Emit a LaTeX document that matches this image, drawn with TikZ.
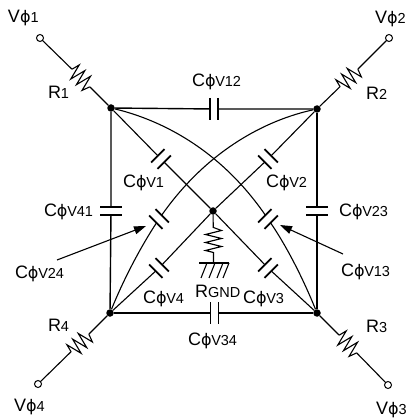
\documentclass[tikz,border=0pt]{standalone}
\usepackage{fontspec}
\setmainfont{Liberation Sans}
\newfontfamily\phifont{DejaVu Sans}
\usetikzlibrary{arrows.meta}
\newcommand\bigtxt{\fontsize{18}{18}\selectfont}
\newcommand\smalltxt{\fontsize{14.5}{15}\selectfont}
\newcommand\phisym{{\fontsize{16}{16}\selectfont\phifont ϕ}}
\newcommand\capname[1]{{\bigtxt C}\phisym{\kern-0.3pt\smalltxt V#1}}
\newcommand\vname[1]{{\bigtxt V}\phisym{\smalltxt #1}}
\newcommand\rname[1]{{\bigtxt R}{\smalltxt #1}}
\tikzset{
  wire/.style={line width=1.1pt,black},
  sidewire/.style={line width=1.4pt,black},
  plate/.style={line width=1.7pt,black},
  lab/.style={anchor=base west,inner sep=0pt,outer sep=0pt},
  term/.style={circle,draw,line width=1pt,fill=white,minimum size=7pt,inner sep=0pt},
  junction/.style={circle,fill=black,minimum size=7.5pt,inner sep=0pt},
  capgap/.style={circle,minimum size=9pt,inner sep=0pt},
  sidegap/.style={circle,minimum size=8pt,inner sep=0pt},
  resgap/.style={circle,minimum size=25pt,inner sep=0pt},
  pointer/.style={line width=1.1pt,-{Triangle[length=12pt,width=8pt]}},
  capsym/.pic={
    \draw[plate] (-4.5,-9.5) -- (-4.5,9.5);
    \draw[plate] (4.5,-9.5) -- (4.5,9.5);
  },
  sidecap/.pic={
    \draw[plate] (-4,-11) -- (-4,11);
    \draw[plate] (4,-11) -- (4,11);
  },
  resym/.pic={
    \draw[wire,line join=miter] (-12.5,0) -- (-10.5,-8) -- (-6.5,8) -- (-2.5,-8) -- (1.5,8) -- (5.5,-8) -- (9.5,8) -- (12.5,0);
  }
}
\begin{document}
\begin{tikzpicture}[x=1pt,y=-1pt]
\useasboundingbox (0,0) rectangle (407,419);
% junctions
\node[junction] (tl) at (111,108) {};
\node[junction] (tr) at (317,109) {};
\node[junction] (bl) at (110,313) {};
\node[junction] (br) at (317,313) {};
\node[junction] (ctr) at (213,211) {};
% terminals
\node[term] (t1) at (40,38) {};
\node[term] (t2) at (389,38) {};
\node[term] (t3) at (388,385) {};
\node[term] (t4) at (38,384) {};
% resistors
\node[resgap] (r1) at (81,78) {};
\node[resgap] (r2) at (349,78) {};
\node[resgap] (r3) at (348,344) {};
\node[resgap] (r4) at (80,343) {};
\node[resgap,minimum size=24pt] (rg) at (213.5,240) {};
\pic[rotate=-45] at (r1) {resym};
\pic[rotate=45] at (r2) {resym};
\pic[rotate=-45] at (r3) {resym};
\pic[rotate=45] at (r4) {resym};
\pic[rotate=90] at (rg) {resym};
% capacitors
\node[sidegap] (c12) at (214,109) {};
\node[sidegap] (c34) at (214.5,313) {};
\node[sidegap] (c41) at (111,211) {};
\node[sidegap] (c23) at (317,211) {};
\node[capgap] (c1) at (161,159) {};
\node[capgap] (c2) at (268,159) {};
\node[capgap] (c3) at (268,268) {};
\node[capgap] (c4) at (159,268) {};
\node[capgap] (c13) at (268,219) {};
\node[capgap] (c24) at (159,219) {};
\pic at (c12) {sidecap};
\pic at (c34) {sidecap};
\pic[rotate=90] at (c41) {sidecap};
\pic[rotate=90] at (c23) {sidecap};
\pic[rotate=-45] at (c1) {capsym};
\pic[rotate=45] at (c2) {capsym};
\pic[rotate=-45] at (c3) {capsym};
\pic[rotate=45] at (c4) {capsym};
\pic[rotate=-45] at (c13) {capsym};
\pic[rotate=45] at (c24) {capsym};
% wires
\draw[wire] (t1) -- (r1) (r1) -- (tl);
\draw[wire] (t2) -- (r2) (r2) -- (tr);
\draw[wire] (t3) -- (r3) (r3) -- (br);
\draw[wire] (t4) -- (r4) (r4) -- (bl);
\draw[sidewire] (tl) -- (c12) (c12) -- (tr);
\draw[sidewire,line width=1.8pt] (bl) -- (c34) (c34) -- (br);
\draw[sidewire] (tl) -- (c41) (c41) -- (bl);
\draw[sidewire] (tr) -- (c23) (c23) -- (br);
\draw[wire] (tl) -- (c1) (c1) -- (ctr);
\draw[wire] (tr) -- (c2) (c2) -- (ctr);
\draw[wire] (br) -- (c3) (c3) -- (ctr);
\draw[wire] (bl) -- (c4) (c4) -- (ctr);
\draw[wire] (tl) .. controls (155,118.5) and (217,145) .. (c13);
\draw[wire] (c13) .. controls (285.7,245) and (302,276) .. (br);
\draw[wire] (tr) .. controls (273,118.5) and (211,145) .. (c24);
\draw[wire] (c24) .. controls (142,245) and (125,276) .. (bl);
% ground
\coordinate (gnd) at (213.5,263);
\draw[wire] (ctr) -- (rg) (rg) -- (gnd);
\draw[plate] (199,263) -- (229,263);
\foreach \xx in {207,215,223,229} \draw[wire] (\xx,263) -- (\xx-6,278);
% pointers
\coordinate (a24) at (57,260);
\coordinate (b24) at (146,226);
\coordinate (a13) at (343,254);
\coordinate (b13) at (280,225);
\draw[pointer] (a24) -- (b24);
\draw[pointer] (a13) -- (b13);
% labels
\node[lab] (lv1) at (8,23) {\vname{1}};
\node[lab] (lv2) at (375,24) {\vname{2}};
\node[lab] (lv3) at (376,414) {\vname{3}};
\node[lab] (lv4) at (14,411) {\vname{4}};
\node[lab] (lr1) at (48,99) {\rname{1}};
\node[lab] (lr2) at (366,100) {\rname{2}};
\node[lab] (lr3) at (366,332) {\rname{3}};
\node[lab] (lr4) at (48,331) {\rname{4}};
\node[lab] (lc12) at (192,87) {\capname{12}};
\node[lab] (lc1) at (123,188) {\capname{1}};
\node[lab] (lc2) at (266,188) {\capname{2}};
\node[lab] (lc41) at (44,216) {\capname{41}};
\node[lab] (lc23) at (339,216) {\capname{23}};
\node[lab] (lc24) at (15,278) {\capname{24}};
\node[lab] (lc13) at (341,276) {\capname{13}};
\node[lab] (lc4) at (143,303) {\capname{4}};
\node[lab] (lc3) at (243,303) {\capname{3}};
\node[lab] (lc34) at (188,345) {\capname{34}};
\node[lab] (lrg) at (195,297) {\rname{GND}};
\end{tikzpicture}
\end{document}
